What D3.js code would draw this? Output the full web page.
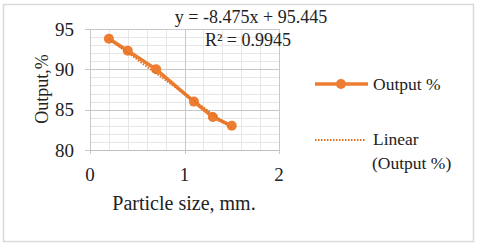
<!DOCTYPE html>
<html><head><meta charset="utf-8">
<script src="https://cdn.jsdelivr.net/npm/d3@7"></script>
<style>body{margin:0;background:#fff}svg{display:block}text{font-family:"Liberation Serif","Times New Roman",serif;fill:#222}</style>
</head><body><svg id="c" width="480" height="248"></svg>
<script>
const particleSize = [0.2, 0.4, 0.7, 1.1, 1.3, 1.5];
const outputPct = [93.8, 92.3, 90.0, 86.0, 84.1, 83.0];
const xTicks = [0, 1, 2];
const yTicks = [80, 85, 90, 95];
const trendSlope = -8.475, trendIntercept = 95.445;
const eqText = "y = -8.475x + 95.445";
const r2Text = "R² = 0.9945";
const seriesName = "Output %";
const trendName = ["Linear", "(Output %)"];

const svg = d3.select("#c");
const orange = "#ED7D31";
svg.append("rect").attr("x",3.5).attr("y",4.5).attr("width",470).attr("height",237)
  .attr("fill","#fff").attr("stroke","#d9d9d9").attr("stroke-width",1.5);

const x = d3.scaleLinear().domain([0,2]).range([90,279]);
const y = d3.scaleLinear().domain([80,95]).range([150,29]);
const g = svg.append("g");
// minor grid
g.selectAll(".vx").data(d3.range(0,2.0001,0.2)).enter().append("line")
  .attr("x1",d=>Math.round(x(d))+0.5).attr("x2",d=>Math.round(x(d))+0.5).attr("y1",y(95)).attr("y2",y(80))
  .attr("stroke","#e6e6e6").attr("stroke-width",1);
g.selectAll(".hy").data(d3.range(80,95.001,1)).enter().append("line")
  .attr("y1",d=>Math.round(y(d))+0.5).attr("y2",d=>Math.round(y(d))+0.5).attr("x1",x(0)).attr("x2",x(2))
  .attr("stroke","#e6e6e6").attr("stroke-width",1);
// major grid
g.selectAll(".mx").data(xTicks).enter().append("line")
  .attr("x1",d=>Math.round(x(d))+0.5).attr("x2",d=>Math.round(x(d))+0.5).attr("y1",y(95)).attr("y2",y(80)+4)
  .attr("stroke","#c8c8c8").attr("stroke-width",1);
g.selectAll(".my").data(yTicks).enter().append("line")
  .attr("y1",d=>Math.round(y(d))+0.5).attr("y2",d=>Math.round(y(d))+0.5).attr("x1",x(0)-5).attr("x2",x(2))
  .attr("stroke","#c8c8c8").attr("stroke-width",1);
// axis line
g.append("line").attr("x1",x(0)).attr("x2",x(2)).attr("y1",Math.round(y(80))+0.5).attr("y2",Math.round(y(80))+0.5)
  .attr("stroke","#bfbfbf").attr("stroke-width",1.2);

// tick labels
g.selectAll(".xt").data(xTicks).enter().append("text").attr("x",d=>x(d)).attr("y",181)
  .attr("text-anchor","middle").attr("font-size",19).text(d=>d);
g.selectAll(".yt").data(yTicks).enter().append("text").attr("x",x(0)-16).attr("y",d=>y(d)+6.5)
  .attr("text-anchor","end").attr("font-size",19).text(d=>d);

// axis titles
svg.append("text").attr("x",184).attr("y",210).attr("text-anchor","middle").attr("font-size",20).text("Particle size, mm.");
svg.append("text").attr("transform","translate(48,89) rotate(-90)").attr("text-anchor","middle").attr("font-size",18).text("Output,%");

// series
const pts = particleSize.map((v,i)=>[v,outputPct[i]]);
g.append("path").datum(pts).attr("d",d3.line().x(d=>x(d[0])).y(d=>y(d[1])))
  .attr("fill","none").attr("stroke",orange).attr("stroke-width",3.5);
g.selectAll(".pt").data(pts).enter().append("circle").attr("cx",d=>x(d[0])).attr("cy",d=>y(d[1])).attr("r",5).attr("fill",orange);
// trendline
const x0 = d3.min(particleSize), x1 = d3.max(particleSize);
g.append("line").attr("x1",x(x0)).attr("y1",y(trendSlope*x0+trendIntercept)).attr("x2",x(x1)).attr("y2",y(trendSlope*x1+trendIntercept))
  .attr("stroke","#e07020").attr("stroke-width",2).attr("stroke-dasharray","1.5,1.5");

// equation
svg.append("text").attr("x",251).attr("y",23).attr("text-anchor","middle").attr("font-size",18).text(eqText);
svg.append("text").attr("x",248).attr("y",46).attr("text-anchor","middle").attr("font-size",18).text(r2Text);

// legend
const lg = svg.append("g");
lg.append("line").attr("x1",315).attr("x2",368).attr("y1",84).attr("y2",84).attr("stroke",orange).attr("stroke-width",3.5);
lg.append("circle").attr("cx",341).attr("cy",84).attr("r",5).attr("fill",orange);
lg.append("text").attr("x",373).attr("y",90).attr("font-size",17.5).text(seriesName);
lg.append("line").attr("x1",315).attr("x2",366).attr("y1",140).attr("y2",140).attr("stroke","#e07020").attr("stroke-width",2).attr("stroke-dasharray","1.5,1.5");
lg.selectAll(".tn").data(trendName).enter().append("text").attr("x",(d,i)=>i?372:373).attr("y",(d,i)=>145+i*24).attr("font-size",17.5).text(d=>d);
</script></body></html>
